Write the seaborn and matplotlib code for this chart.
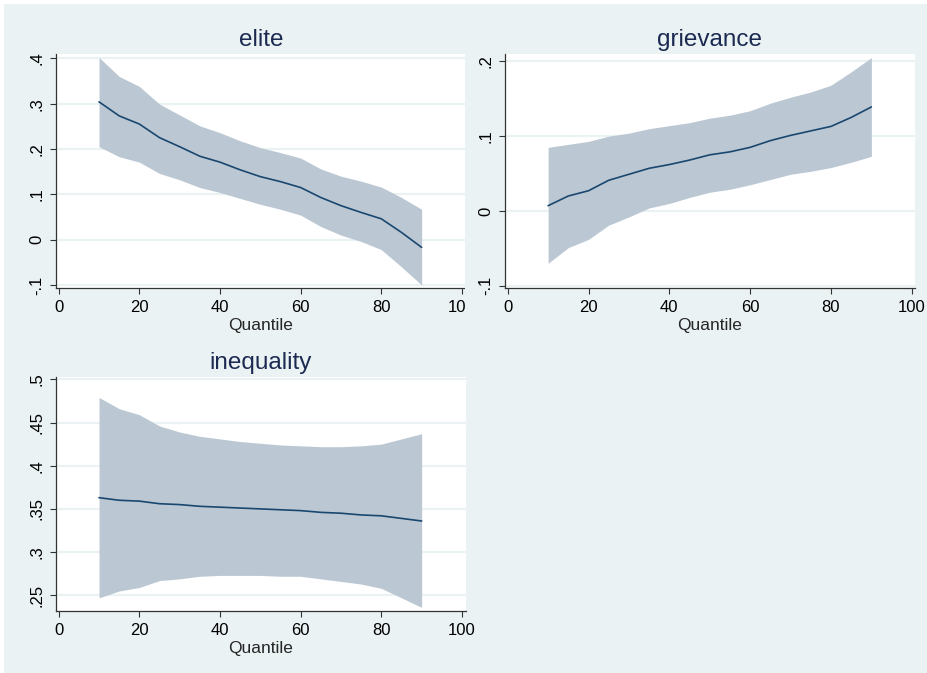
import matplotlib
matplotlib.use("Agg")
import matplotlib.pyplot as plt
import matplotlib.patches as mpatches
import seaborn as sns

# quantile regression coefficients with confidence bands
quantile = [10, 15, 20, 25, 30, 35, 40, 45, 50, 55, 60, 65, 70, 75, 80, 85, 90]

elite_coef = [0.304, 0.273, 0.255, 0.225, 0.205, 0.184, 0.171, 0.154, 0.139,
              0.128, 0.115, 0.093, 0.075, 0.060, 0.046, 0.016, -0.017]
elite_hi = [0.402, 0.360, 0.338, 0.299, 0.275, 0.251, 0.236, 0.218, 0.203,
            0.192, 0.180, 0.156, 0.140, 0.129, 0.116, 0.093, 0.067]
elite_lo = [0.205, 0.183, 0.171, 0.146, 0.132, 0.115, 0.104, 0.091, 0.078,
            0.067, 0.054, 0.029, 0.010, -0.004, -0.022, -0.060, -0.100]

grievance_coef = [0.007, 0.020, 0.027, 0.041, 0.049, 0.057, 0.062, 0.068, 0.075,
                  0.079, 0.085, 0.094, 0.101, 0.107, 0.113, 0.125, 0.139]
grievance_hi = [0.085, 0.089, 0.093, 0.100, 0.104, 0.110, 0.114, 0.118, 0.124,
                0.128, 0.134, 0.144, 0.152, 0.159, 0.168, 0.186, 0.205]
grievance_lo = [-0.070, -0.049, -0.038, -0.019, -0.008, 0.004, 0.010, 0.018, 0.025,
                0.029, 0.035, 0.042, 0.049, 0.053, 0.058, 0.065, 0.073]

inequality_coef = [0.363, 0.360, 0.359, 0.356, 0.355, 0.353, 0.352, 0.351, 0.350,
                   0.349, 0.348, 0.346, 0.345, 0.343, 0.342, 0.339, 0.336]
inequality_hi = [0.479, 0.466, 0.459, 0.446, 0.439, 0.434, 0.431, 0.428, 0.426,
                 0.424, 0.423, 0.422, 0.422, 0.423, 0.425, 0.431, 0.437]
inequality_lo = [0.247, 0.255, 0.259, 0.267, 0.269, 0.272, 0.273, 0.273, 0.273,
                 0.272, 0.272, 0.269, 0.266, 0.263, 0.258, 0.247, 0.236]

x_ticks = [0, 20, 40, 60, 80, 100]
x_ticklabels = ["0", "20", "40", "60", "80", "100"]
elite_yticks = [-0.1, 0, 0.1, 0.2, 0.3, 0.4]
elite_yticklabels = ["-.1", "0", ".1", ".2", ".3", ".4"]
grievance_yticks = [-0.1, 0, 0.1, 0.2]
grievance_yticklabels = ["-.1", "0", ".1", ".2"]
inequality_yticks = [0.25, 0.3, 0.35, 0.4, 0.45, 0.5]
inequality_yticklabels = [".25", ".3", ".35", ".4", ".45", ".5"]

sns.set_style("white")
plt.rcParams["font.family"] = ["Liberation Sans", "DejaVu Sans"]

BG = "#eaf2f3"
BAND = "#bbc8d3"
LINE = "#1a476f"
TITLE = "#1c2a52"

W, H = 928, 673
fig = plt.figure(figsize=(W / 100, H / 100), dpi=100)
fig.patch.set_facecolor("white")

# outer graph region
fig.add_artist(mpatches.Rectangle((4 / W, 0), 1, (H - 4) / H, transform=fig.transFigure,
                                  facecolor=BG, edgecolor="none", zorder=0))
# the grievance cell covers part of the elite x labels, as in the original
fig.add_artist(mpatches.Rectangle((465 / W, 0.5), 1, (H - 4) / H - 0.5, transform=fig.transFigure,
                                  facecolor=BG, edgecolor="none", zorder=1.5))


def px_rect(l, t, r, b):
    return [l / W, 1 - b / H, (r - l) / W, (b - t) / H]


panels = [
    ("elite", px_rect(56, 54, 466, 288), (-0.67, 101.0), (-0.1066, 0.4095),
     elite_coef, elite_lo, elite_hi, elite_yticks, elite_yticklabels, 1),
    ("grievance", px_rect(505, 54, 915, 288), (-0.67, 100.8), (-0.103, 0.2098),
     grievance_coef, grievance_lo, grievance_hi, grievance_yticks, grievance_yticklabels, 2),
    ("inequality", px_rect(56, 377, 466, 611), (-0.67, 101.0), (0.2318, 0.5027),
     inequality_coef, inequality_lo, inequality_hi, inequality_yticks, inequality_yticklabels, 1),
]

for title, rect, xlim, ylim, coef, lo, hi, yt, ytl, z in panels:
    ax = fig.add_axes(rect, zorder=z)
    ax.set_facecolor("white")
    ax.fill_between(quantile, lo, hi, color=BAND, lw=0, zorder=2)
    sns.lineplot(x=quantile, y=coef, ax=ax, color=LINE, lw=1.2, zorder=3)

    ax.set_xlim(*xlim)
    ax.set_ylim(*ylim)
    ax.set_xticks(x_ticks)
    ax.set_xticklabels(x_ticklabels, fontsize=12)
    ax.set_yticks(yt)
    ax.set_yticklabels(ytl, fontsize=12, rotation=90, va="center")

    ax.set_axisbelow(True)
    ax.yaxis.grid(True, color=BG, lw=1.6)
    ax.xaxis.grid(False)

    for s in ["top", "right"]:
        ax.spines[s].set_visible(False)
    for s in ["left", "bottom"]:
        ax.spines[s].set_color("#333333")
        ax.spines[s].set_linewidth(0.9)

    ax.tick_params(axis="both", direction="out", length=4.5, width=0.8, color="#333333",
                   labelcolor="black", pad=4, bottom=True, left=True)
    ax.set_xlabel("Quantile", fontsize=12.5, labelpad=2)
    ax.set_ylabel("")
    ax.set_title(title, fontsize=17.5, color=TITLE, pad=6)

fig.savefig("out.png", dpi=100, facecolor=fig.get_facecolor())
